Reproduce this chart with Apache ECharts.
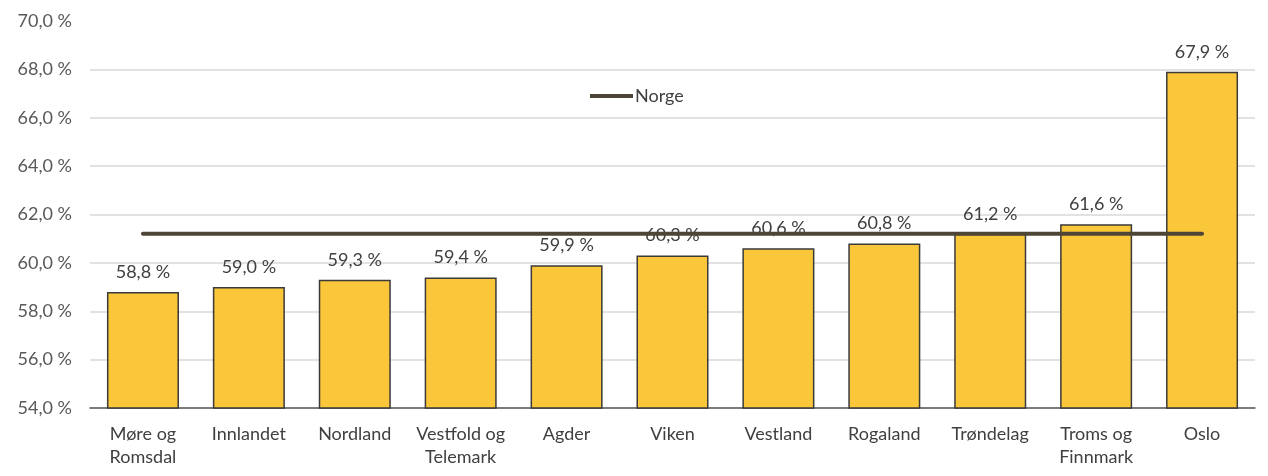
<!DOCTYPE html>
<html>
<head>
<meta charset="utf-8">
<script src="https://cdn.jsdelivr.net/npm/echarts@6/dist/echarts.min.js"></script>
<style>
  html, body { margin: 0; padding: 0; background: #fff; }
  #chart { width: 1268px; height: 476px; }
</style>
</head>
<body>
<div id="chart"></div>
<script>
// fylker
var categories = ['Møre og\nRomsdal', 'Innlandet', 'Nordland', 'Vestfold og\nTelemark', 'Agder',
	'Viken', 'Vestland', 'Rogaland', 'Trøndelag', 'Troms og\nFinnmark', 'Oslo'];
// andel (%)
var andel = [58.8, 59.0, 59.3, 59.4, 59.9, 60.3, 60.6, 60.8, 61.2, 61.6, 67.9];
// landsgjennomsnitt
var norge = [61.2, 61.2, 61.2, 61.2, 61.2, 61.2, 61.2, 61.2, 61.2, 61.2, 61.2];

function pct(v) {
	return v.toFixed(1).replace('.', ',') + ' %';
}

var myChart = echarts.init(document.getElementById('chart'));
var option = {
	animation: false,
	textStyle: { fontFamily: 'Lato' },
	grid: { left: 90, right: 13, top: 21, bottom: 68 },
	legend: {
		data: ['Norge'],
		icon: 'rect',
		left: 585,
		top: 82,
		itemWidth: 43,
		itemHeight: 4,
		itemStyle: { color: '#4d4535' },
		textStyle: { fontSize: 18, color: '#404040', fontFamily: 'Lato', padding: [0, 0, 0, -3] }
	},
	xAxis: {
		type: 'category',
		data: categories,
		axisLine: { lineStyle: { color: '#595959', width: 1.5 } },
		axisTick: { show: false },
		axisLabel: {
			color: '#404040',
			fontSize: 18,
			lineHeight: 23,
			margin: 15,
			interval: 0
		}
	},
	yAxis: {
		type: 'value',
		min: 54,
		max: 70,
		interval: 2,
		axisLine: { show: false },
		axisTick: { show: false },
		axisLabel: {
			color: '#595959',
			fontSize: 18,
			margin: 18,
			formatter: function (v) { return pct(v); }
		},
		splitLine: {
			showMaxLine: false,
			lineStyle: { color: '#d9d9d9', width: 1.5 }
		}
	},
	series: [{
		name: 'Andel',
		type: 'bar',
		data: andel,
		barWidth: '68%',
		itemStyle: { color: '#FAC73A', borderColor: '#3a3a3a', borderWidth: 1.5 },
		label: {
			show: true,
			position: 'top',
			distance: 11,
			fontSize: 18,
			color: '#404040',
			formatter: function (p) { return pct(p.value); }
		}
	}, {
		name: 'Norge',
		type: 'line',
		data: norge,
		symbol: 'none',
		lineStyle: { color: '#4d4535', width: 4, cap: 'round' },
		itemStyle: { color: '#4d4535' },
		z: 5
	}]
};
myChart.setOption(option);
</script>
</body>
</html>
